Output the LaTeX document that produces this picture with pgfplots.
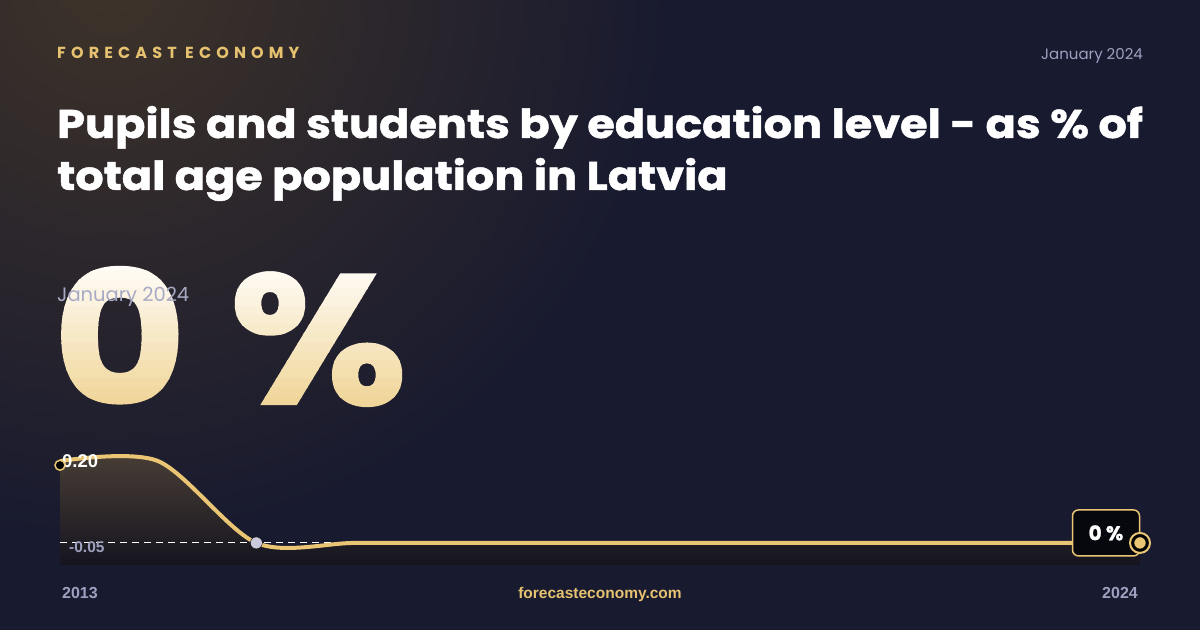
\documentclass[border=0pt]{standalone}
\usepackage{fontspec}
\usepackage{graphicx}
\setmainfont{Liberation Sans}
\newfontfamily\heavy{Poppins}[BoldFeatures={FakeBold=1.2}]
\newfontfamily\poppins{Poppins}
\newfontfamily\spaced{Poppins}[LetterSpace=32]
\usepackage{pgfplots}
\pgfplotsset{compat=1.18}

\definecolor{bg}{HTML}{181A2F}
\definecolor{glow}{HTML}{3E3329}
\definecolor{gold}{HTML}{E9C574}
\definecolor{goldtxt}{HTML}{E6C270}
\definecolor{greytxt}{HTML}{9EA1BF}
\definecolor{fillA}{HTML}{4A3F36}
\definecolor{fillB}{HTML}{15141F}
\definecolor{bigA}{HTML}{FFFDF8}
\definecolor{bigB}{HTML}{F0D69A}

\begin{document}
\begin{tikzpicture}[x=1pt,y=1pt]
% background
\fill[bg] (0,0) rectangle (1200,630);
\begin{scope}
  \clip (0,0) rectangle (1200,630);
  \shade[inner color=glow, outer color=bg] (110,650) circle (560);
\end{scope}

% header
\node[anchor=base west, inner sep=0, text=goldtxt, font=\spaced\bfseries\fontsize{16}{16}\selectfont] at (57,630-59) {FORECAST ECONOMY};
\node[anchor=base east, inner sep=0, text=greytxt, font=\poppins\fontsize{15}{15}\selectfont] at (1143,630-60) {January 2024};

% title
\node[anchor=base west, inner sep=0, text=white, font=\heavy\bfseries\fontsize{40}{40}\selectfont] at (57,630-138) {\scalebox{1.115}[1]{Pupils and students by education level - as \% of}};
\node[anchor=base west, inner sep=0, text=white, font=\heavy\bfseries\fontsize{40}{40}\selectfont] at (57,630-190) {\scalebox{1.115}[1]{total age population in Latvia}};

% big value, shaded in horizontal bands
\foreach \i in {0,...,15}{
  \pgfmathsetmacro{\pct}{100-\i*100/15}
  \pgfmathsetmacro{\ytop}{630-262-\i*9+(\i==0)*25}
  \pgfmathsetmacro{\ybot}{630-262-\i*9-9.2-(\i==15)*25}
  \begin{scope}
    \clip (0,\ytop) rectangle (700,\ybot);
    \node[anchor=base west, inner sep=0, text=bigA!\pct!bigB, font=\heavy\bfseries\fontsize{184}{184}\selectfont] at (53,630-404) {\scalebox{1.11}[1]{0 \%}};
  \end{scope}
}
\node[anchor=base west, inner sep=0, text=greytxt!90!white, font=\poppins\fontsize{19.5}{19.5}\selectfont] at (57,630-302) {January 2024};

\begin{axis}[
  at={(60pt,65pt)}, anchor=south west,
  scale only axis, width=1080pt, height=110pt,
  axis lines=none, clip=false,
  xmin=2013, xmax=2024, ymin=-0.054, ymax=0.215,
]
% shaded area under the line
\addplot[draw=none, top color=fillA, bottom color=fillB, smooth] coordinates {
  (2013,0.2)(2014,0.2)(2015,0)(2016,0)(2017,0)(2018,0)(2019,0)
  (2020,0)(2021,0)(2022,0)(2023,0)(2024,0)
} -- (axis cs:2024,-0.054) -- (axis cs:2013,-0.054) -- cycle;
\addplot[white, line width=1pt, dash pattern=on 7pt off 5pt] coordinates {(2013,0)(2024,0)};
\addplot[gold, line width=4pt, smooth] coordinates {
  (2013,0.2)(2014,0.2)(2015,0)(2016,0)(2017,0)(2018,0)(2019,0)
  (2020,0)(2021,0)(2022,0)(2023,0)(2024,0)
};
% markers
\addplot[only marks, mark=*, mark size=5pt, mark options={draw=gold, fill=none, line width=1.5pt}] coordinates {(2013,0.19)};
\addplot[only marks, mark=*, mark size=6pt, mark options={draw=none, fill=greytxt!55!white}] coordinates {(2015,0)};
% value labels
\node[anchor=west, inner sep=0, text=white, font=\bfseries\fontsize{18.5}{18.5}\selectfont] at (axis cs:2013,0.2) [xshift=2pt] {0.20};
\node[anchor=west, inner sep=0, text=greytxt, font=\bfseries\fontsize{15.5}{15.5}\selectfont] at (axis cs:2013,0) [xshift=9pt,yshift=-4pt] {-0.05};
\node[draw=gold, line width=1.5pt, fill=black!70!bg, rounded corners=6pt, minimum width=67pt, minimum height=46pt, text=white, font=\heavy\bfseries\fontsize{20}{20}\selectfont] at (axis cs:2024,0) [xshift=-34pt, yshift=10pt] {0 \%};
\addplot[only marks, mark=*, mark size=10pt, mark options={draw=gold, fill=none, line width=2pt}] coordinates {(2024,0)};
\addplot[only marks, mark=*, mark size=6pt, mark options={draw=none, fill=gold}] coordinates {(2024,0)};
\end{axis}

% footer
\node[anchor=base west, inner sep=0, text=greytxt, font=\bfseries\fontsize{16}{16}\selectfont] at (62,630-598) {2013};
\node[anchor=base east, inner sep=0, text=greytxt, font=\bfseries\fontsize{16}{16}\selectfont] at (1138,630-598) {2024};
\node[anchor=base, inner sep=0, text=goldtxt, font=\bfseries\fontsize{15.5}{15.5}\selectfont] at (600,630-598) {forecasteconomy.com};
\end{tikzpicture}
\end{document}
